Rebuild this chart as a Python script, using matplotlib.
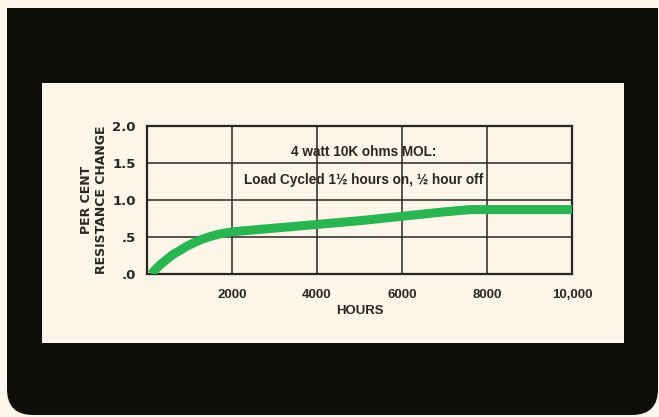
import numpy as np
import matplotlib.pyplot as plt
from matplotlib.patches import FancyBboxPatch, Rectangle

# data
hours = [100, 200, 300, 450, 600, 780, 950, 1100, 1250, 1450, 1700, 2000,
         3000, 4000, 5000, 6000, 7000, 7600, 8000, 9000, 10000]
change = [0.0, 0.06, 0.12, 0.19, 0.26, 0.32, 0.38, 0.42, 0.46, 0.50, 0.54, 0.57,
          0.62, 0.67, 0.72, 0.78, 0.84, 0.87, 0.87, 0.87, 0.87]
x_ticks = [2000, 4000, 6000, 8000, 10000]
x_labels = ['2000', '4000', '6000', '8000', '10,000']
y_ticks = [0.0, 0.5, 1.0, 1.5, 2.0]
y_labels = ['.0', '.5', '1.0', '1.5', '2.0']

W, H = 659, 417
cream = '#fcf5e9'
ink = '#2b2620'
black = '#0e0f0b'
green = '#2bb552'

fig = plt.figure(figsize=(W / 100, H / 100), dpi=100, facecolor=cream)

# background layer in pixel units
bg = fig.add_axes([0, 0, 1, 1])
bg.set_xlim(0, W)
bg.set_ylim(H, 0)
bg.axis('off')
bg.add_patch(FancyBboxPatch((7, 8), 651, 407,
                            boxstyle='round,pad=0,rounding_size=26',
                            facecolor=black, edgecolor='none'))
bg.add_patch(Rectangle((7, 8), 651, 100, facecolor=black, edgecolor='none'))
bg.add_patch(Rectangle((42, 83), 582, 260, facecolor=cream, edgecolor='none'))


def fx(px):
    return px / W


def fy(py):
    return 1 - py / H


ax = fig.add_axes([fx(147), fy(274), fx(572 - 147), fy(126) - fy(274)])
ax.set_facecolor(cream)

ax.plot(hours, change, color=green, lw=6.5, solid_capstyle='butt',
        solid_joinstyle='round', zorder=3)

ax.set_xlim(0, 10000)
ax.set_ylim(0, 2.0)
for v in [2000, 4000, 6000, 8000]:
    ax.axvline(v, color=ink, lw=1.1, zorder=1)
for v in [0.5, 1.0, 1.5]:
    ax.axhline(v, color=ink, lw=1.1, zorder=1)

for s in ax.spines.values():
    s.set_color(ink)
    s.set_linewidth(1.6)

ax.set_xticks(x_ticks)
ax.set_xticklabels(x_labels, fontsize=9.5, fontweight='bold', color=ink,
                   family='Liberation Sans')
ax.set_yticks(y_ticks)
ax.set_yticklabels(y_labels, fontsize=9.5, fontweight='bold', color=ink,
                   family=['Liberation Sans Narrow', 'DejaVu Sans'])
ax.tick_params(length=0)
ax.tick_params(axis='y', pad=8)
ax.tick_params(axis='x', pad=11)

ax.set_xlabel('HOURS', fontsize=9.5, fontweight='bold', color=ink,
              family='Liberation Sans', labelpad=3)
fig.text(fx(94), fy(200), 'PER CENT\nRESISTANCE CHANGE', rotation=90,
         ha='center', va='center', fontsize=9, fontweight='bold', color=ink,
         family=['Liberation Sans Narrow', 'DejaVu Sans'], linespacing=1.2)

ax.text(5100, 1.65, '4 watt 10K ohms MOL:', ha='center', va='center',
        fontsize=9.8, fontweight='bold', color=ink, family='Liberation Sans',
        zorder=4)
ax.text(5100, 1.27, 'Load Cycled 1\u00bd hours on, \u00bd hour off',
        ha='center', va='center', fontsize=9.8, fontweight='bold', color=ink,
        family='Liberation Sans', zorder=4)

fig.savefig('out.png', dpi=100, facecolor=cream)
